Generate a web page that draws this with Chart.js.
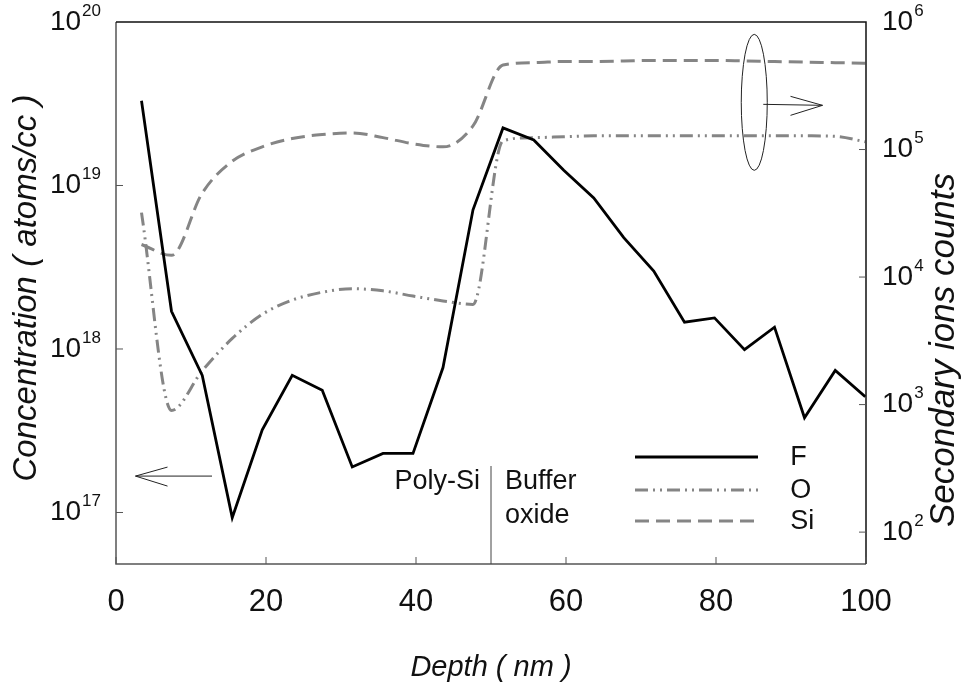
<!DOCTYPE html>
<html>
<head>
<meta charset="utf-8">
<script src="https://cdn.jsdelivr.net/npm/chart.js@4.4.1/dist/chart.umd.min.js"></script>
<style>
  body { margin: 0; background: #fff; }
  canvas { display: block; }
</style>
</head>
<body>
<canvas id="sims" width="970" height="691"></canvas>
<script>
// depth (nm) of each SIMS point
const depth = [3.4, 7.4, 11.5, 15.5, 19.5, 23.5, 27.5, 31.5, 35.6, 39.6, 43.6, 47.6,
               51.6, 55.7, 59.7, 63.7, 67.7, 71.7, 75.8, 79.8, 83.8, 87.8, 91.8, 95.9, 99.9];

// F concentration, atoms/cc (left axis)
const fluorine = [3.3e19, 1.7e18, 6.9e17, 9.3e16, 3.2e17, 6.9e17, 5.6e17, 1.9e17, 2.3e17, 2.3e17, 7.7e17, 7.1e18,
                  2.25e19, 1.9e19, 1.24e19, 8.4e18, 4.8e18, 3.0e18, 1.46e18, 1.55e18, 9.9e17, 1.36e18, 3.8e17, 7.4e17, 5.1e17];

// O and Si secondary ion counts (right axis)
const oxygen = [3.2e4, 900, 1.84e3, 3.3e3, 5.1e3, 6.6e3, 7.6e3, 8.1e3, 7.8e3, 7.1e3, 6.5e3, 6.1e3,
                1.17e5, 1.24e5, 1.26e5, 1.28e5, 1.28e5, 1.28e5, 1.28e5, 1.28e5, 1.28e5, 1.28e5, 1.28e5, 1.27e5, 1.15e5];
const silicon = [1.8e4, 1.48e4, 4.56e4, 8.1e4, 1.05e5, 1.22e5, 1.31e5, 1.35e5, 1.24e5, 1.11e5, 1.05e5, 1.53e5,
                 4.6e5, 4.8e5, 4.9e5, 4.9e5, 4.95e5, 5.0e5, 5.0e5, 5.0e5, 4.95e5, 4.9e5, 4.85e5, 4.8e5, 4.75e5];

const xTicks = [0, 20, 40, 60, 80, 100];
const leftExps = [17, 18, 19, 20];
const rightExps = [2, 3, 4, 5, 6];
const seriesNames = ["F", "O", "Si"];

const GRAY = "#858585";
const FONT = "'Liberation Sans', Arial, sans-serif";

const pts = vals => depth.map((d, i) => ({ x: d, y: vals[i] }));

// draw "10" with a raised exponent
function powLabel(ctx, exp, x, y, align) {
  ctx.textBaseline = "middle";
  ctx.textAlign = "left";
  ctx.font = `28px ${FONT}`;
  const wBase = ctx.measureText("10").width;
  ctx.font = `17px ${FONT}`;
  const wExp = ctx.measureText(String(exp)).width;
  let x0 = align === "right" ? x - wBase - wExp : x;
  ctx.font = `28px ${FONT}`;
  ctx.fillText("10", x0, y);
  ctx.font = `17px ${FONT}`;
  ctx.fillText(String(exp), x0 + wBase + 1, y - 11);
}

function arrowHead(ctx, tipX, tipY, dir) {
  ctx.beginPath();
  ctx.moveTo(tipX + dir * 32, tipY - 9);
  ctx.lineTo(tipX, tipY);
  ctx.lineTo(tipX + dir * 32, tipY + 10);
  ctx.stroke();
}

const decor = {
  id: "decor",
  afterDraw(chart) {
    const { ctx, chartArea: a, scales } = chart;
    const sx = scales.x, sl = scales.y, sr = scales.y2;
    ctx.save();

    // frame
    ctx.lineWidth = 1.5;
    ctx.strokeStyle = "#555";
    ctx.beginPath();
    ctx.moveTo(a.left, a.top); ctx.lineTo(a.left, a.bottom); ctx.lineTo(a.right, a.bottom);
    ctx.stroke();
    ctx.strokeStyle = "#111";
    ctx.beginPath();
    ctx.moveTo(a.left, a.top); ctx.lineTo(a.right, a.top); ctx.lineTo(a.right, a.bottom);
    ctx.stroke();

    // ticks (inside) and labels
    ctx.lineWidth = 1;
    ctx.strokeStyle = "#555";
    ctx.fillStyle = "#111";
    xTicks.forEach(t => {
      const px = sx.getPixelForValue(t);
      ctx.beginPath(); ctx.moveTo(px, a.bottom); ctx.lineTo(px, a.bottom - 7); ctx.stroke();
      ctx.font = `31px ${FONT}`;
      ctx.textAlign = "center"; ctx.textBaseline = "middle";
      ctx.fillText(String(t), px, a.bottom + 38);
    });
    leftExps.forEach(e => {
      const py = sl.getPixelForValue(Math.pow(10, e));
      if (e < 20) { ctx.beginPath(); ctx.moveTo(a.left, py); ctx.lineTo(a.left + 7, py); ctx.stroke(); }
      powLabel(ctx, e, a.left - 16, py, "right");
    });
    rightExps.forEach(e => {
      const py = sr.getPixelForValue(Math.pow(10, e));
      if (e < 6) { ctx.beginPath(); ctx.moveTo(a.right, py); ctx.lineTo(a.right - 7, py); ctx.stroke(); }
      powLabel(ctx, e, a.right + 16, py, "left");
    });

    // axis titles
    ctx.textAlign = "center"; ctx.textBaseline = "middle";
    ctx.font = `italic 29px ${FONT}`;
    ctx.fillText("Depth ( nm )", (a.left + a.right) / 2, 668);
    ctx.font = `italic 33px ${FONT}`;
    ctx.save();
    ctx.translate(27, 288);
    ctx.rotate(-Math.PI / 2);
    ctx.fillText("Concentration ( atoms/cc )", 0, 0);
    ctx.restore();
    ctx.font = `italic 35px ${FONT}`;
    ctx.save();
    ctx.translate(944, 350);
    ctx.rotate(-Math.PI / 2);
    ctx.fillText("Secondary ions counts", 0, 0);
    ctx.restore();

    // poly-Si / buffer oxide boundary
    const bx = sx.getPixelForValue(50);
    ctx.strokeStyle = "#444";
    ctx.beginPath(); ctx.moveTo(bx, a.bottom - 98); ctx.lineTo(bx, a.bottom); ctx.stroke();
    ctx.font = `27px ${FONT}`;
    ctx.textAlign = "right";
    ctx.fillText("Poly-Si", bx - 11, a.bottom - 82);
    ctx.textAlign = "left";
    ctx.fillText("Buffer", bx + 14, a.bottom - 82);
    ctx.fillText("oxide", bx + 14, a.bottom - 48);

    // legend
    const lx0 = sx.getPixelForValue(69.2), lx1 = sx.getPixelForValue(85.6), tx = sx.getPixelForValue(89.9);
    const ly = [a.bottom - 107, a.bottom - 74, a.bottom - 43];
    chart.data.datasets.forEach((ds, i) => {
      ctx.strokeStyle = ds.borderColor;
      ctx.lineWidth = ds.borderWidth;
      ctx.setLineDash(ds.borderDash || []);
      ctx.beginPath(); ctx.moveTo(lx0, ly[i]); ctx.lineTo(lx1, ly[i]); ctx.stroke();
      ctx.setLineDash([]);
      ctx.fillStyle = "#111";
      ctx.textAlign = "left";
      ctx.fillText(seriesNames[i], tx, ly[i] + 1);
    });

    // arrow to left axis (F)
    ctx.strokeStyle = "#222";
    ctx.lineWidth = 1;
    const ay = sl.getPixelForValue(1.67e17);
    const ax0 = sx.getPixelForValue(2.6), ax1 = sx.getPixelForValue(12.8);
    ctx.beginPath(); ctx.moveTo(ax1, ay); ctx.lineTo(ax0, ay); ctx.stroke();
    arrowHead(ctx, ax0, ay, 1);

    // ellipse + arrow to right axis (O, Si)
    const ex = sx.getPixelForValue(85.1), ey = sr.getPixelForValue(Math.pow(10, 5.37));
    ctx.beginPath(); ctx.ellipse(ex, ey, 13, 68, 0, 0, Math.PI * 2); ctx.stroke();
    const rx1 = sx.getPixelForValue(94.2);
    ctx.beginPath(); ctx.moveTo(ex + 9, ey + 2); ctx.lineTo(rx1, ey + 3); ctx.stroke();
    arrowHead(ctx, rx1, ey + 3, -1);

    ctx.restore();
  }
};

new Chart(document.getElementById("sims"), {
  type: "line",
  data: {
    datasets: [
      { label: "F", data: pts(fluorine), yAxisID: "y", borderColor: "#000", borderWidth: 2.8, tension: 0 },
      { label: "O", data: pts(oxygen), yAxisID: "y2", borderColor: GRAY, borderWidth: 3,
        borderDash: [13, 5, 2, 5, 2, 5], cubicInterpolationMode: "monotone" },
      { label: "Si", data: pts(silicon), yAxisID: "y2", borderColor: GRAY, borderWidth: 3,
        borderDash: [14, 7], cubicInterpolationMode: "monotone" }
    ]
  },
  options: {
    responsive: false,
    animation: false,
    devicePixelRatio: 1,
    layout: { padding: { left: 116, top: 22, right: 104, bottom: 127 } },
    elements: { point: { radius: 0 } },
    plugins: { legend: { display: false }, tooltip: { enabled: false } },
    scales: {
      x: { type: "linear", min: 0, max: 100, display: false },
      y: { type: "logarithmic", position: "left", min: Math.pow(10, 16.685), max: 1e20, display: false },
      y2: { type: "logarithmic", position: "right", min: Math.pow(10, 1.75), max: 1e6, display: false }
    }
  },
  plugins: [decor]
});
</script>
</body>
</html>
